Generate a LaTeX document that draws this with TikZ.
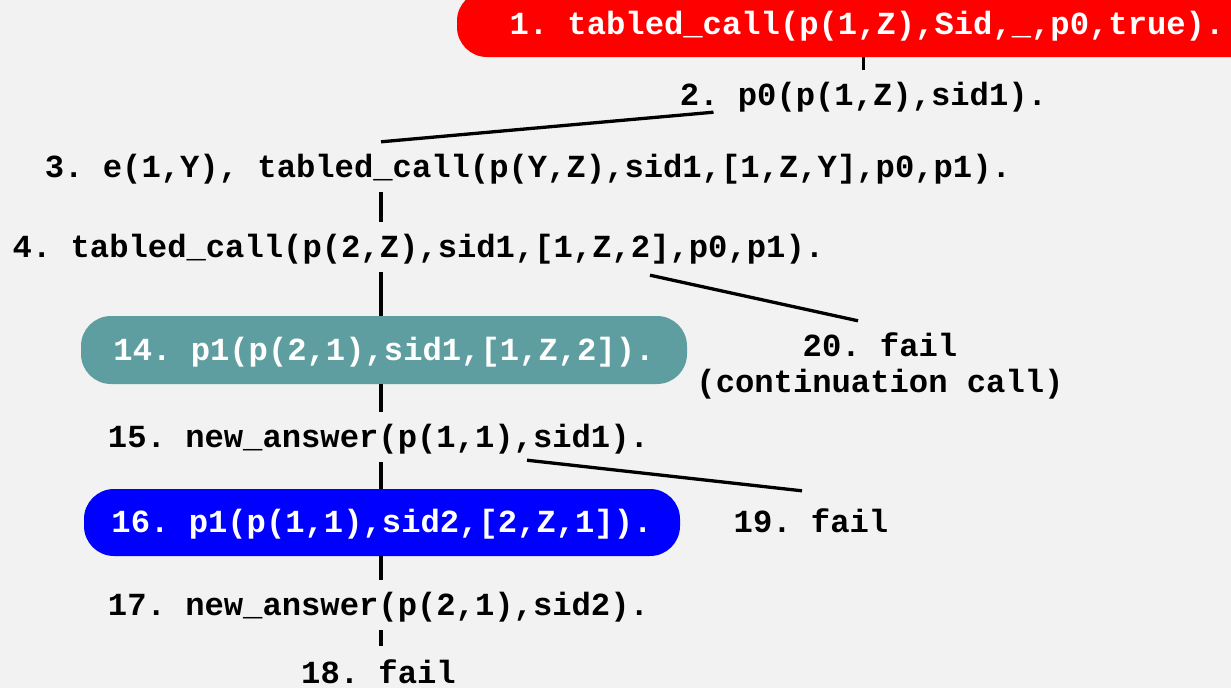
\documentclass[tikz,border=0pt]{standalone}
\usepackage{fontspec}
\setmonofont{Liberation Mono}
\usepackage{xcolor}
\usetikzlibrary{calc}
\definecolor{bggray}{HTML}{F2F2F2}
\definecolor{contteal}{HTML}{5F9EA0}
\begin{document}
\begin{tikzpicture}[x=1pt,y=-1pt,
        goal/.style={font=\ttfamily\bfseries\fontsize{32.2}{36}\selectfont, inner xsep=0pt, inner ysep=15pt, text height=20pt, text depth=0pt},
        boxed/.style={goal, text=white, inner ysep=0pt, rounded corners=30pt},
        edge/.style={line width=3.3pt}]
        \clip (0,0) rectangle (1231,688);
        \fill [bggray] (0,0) rectangle (1231,688);
        \coordinate (col) at (381,0);
        \node [boxed, fill=red, minimum width=820pt, minimum height=66pt] (n1) at (867,24) {1. tabled\_call(p(1,Z),Sid,\_,p0,true).};
        \node [goal] (n2) at (863.5,95) {2. p0(p(1,Z),sid1).};
        \node [goal] (n3) at (528,167) {3. e(1,Y), tabled\_call(p(Y,Z),sid1,[1,Z,Y],p0,p1).};
        \node [goal] (n4) at (418.5,247) {4. tabled\_call(p(2,Z),sid1,[1,Z,2],p0,p1).};
        \node [boxed, fill=contteal, minimum width=606pt, minimum height=68pt] (n14) at (384,350) {14. p1(p(2,1),sid1,[1,Z,2]).};
        \node [goal, align=center, text height=56pt] (n20) at (880,364) {20. fail\\(continuation call)};
        \node [goal] (n15) at (378.5,437) {15. new\_answer(p(1,1),sid1).};
        \node [boxed, fill=blue, minimum width=596pt, minimum height=67pt] (n16) at (382,522.5) {16. p1(p(1,1),sid2,[2,Z,1]).};
        \node [goal] (n19) at (811,522) {19. fail};
        \node [goal] (n17) at (378.5,605) {17. new\_answer(p(2,1),sid2).};
        \node [goal] (n18) at (378.5,673) {18. fail};
        \draw [edge] (n1.south -| n2) -- (n2.north);
        \draw [edge] ($(n2.south)+(-150,-8)$) -- (col |- n3.north);
        \draw [edge] (col |- n3.south) -- (col |- n4.north);
        \draw [edge] (col |- n4.south) -- (col |- n14.north);
        \draw [edge] ($(n4.south)+(231.5,3)$) -- ($(n20.north)+(-22,0)$);
        \draw [edge] (col |- n14.south) -- (col |- n15.north);
        \draw [edge] (col |- n15.south) -- (col |- n16.north);
        \draw [edge] ($(n15.south)+(148.5,-2)$) -- ($(n19.north)+(-9,-6)$);
        \draw [edge] (col |- n16.south) -- (col |- n17.north);
        \draw [edge] (col |- n17.south) -- ([yshift=2pt]col |- n18.north);
\end{tikzpicture}
\end{document}
